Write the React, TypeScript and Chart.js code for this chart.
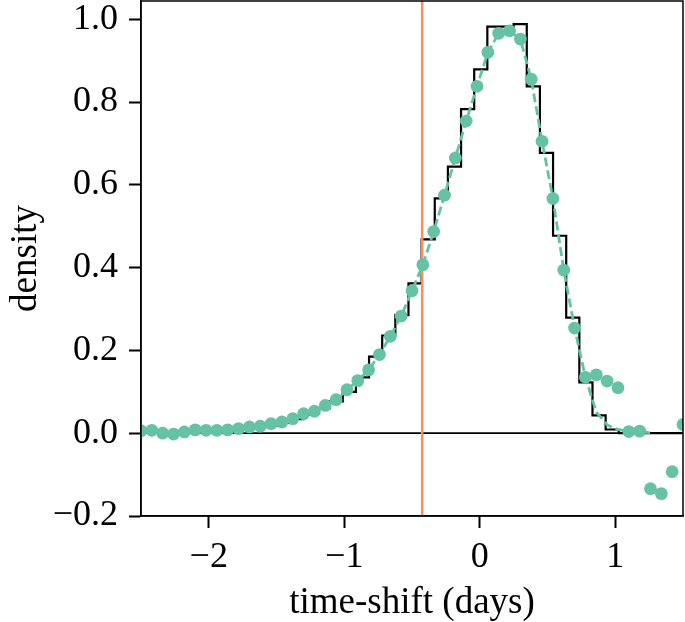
import React, { useEffect, useRef } from "react";
import { Chart, registerables } from "chart.js";

Chart.register(...registerables);

const FONT = "'Liberation Serif', 'Times New Roman', serif";
const GREEN = "#66c2a5";
const ORANGE = "#fc8d62";

const X_MIN = -2.5;
const X_MAX = 1.5;
const Y_MIN = -0.2;
const Y_MAX = 1.044;
const X_TICKS = [-2, -1, 0, 1];
const Y_TICKS = [-0.2, 0, 0.2, 0.4, 0.6, 0.8, 1.0];
const TRUE_SHIFT = -0.425;

const DOT_X = [
  -2.5, -2.42, -2.34, -2.26, -2.18, -2.1, -2.02, -1.94, -1.86, -1.78,
  -1.7, -1.62, -1.54, -1.46, -1.38, -1.3, -1.22, -1.14, -1.06, -0.98,
  -0.9, -0.82, -0.74, -0.66, -0.58, -0.5, -0.42, -0.34, -0.26, -0.18,
  -0.1, -0.02, 0.06, 0.14, 0.22, 0.3, 0.38, 0.46, 0.54, 0.62,
  0.7, 0.78, 0.86, 0.94, 1.02, 1.1, 1.18, 1.26, 1.34, 1.42, 1.5,
];
const DOT_Y = [
  0.006, 0.007, 0.0, -0.002, 0.003, 0.008, 0.007, 0.007, 0.008, 0.011,
  0.015, 0.017, 0.023, 0.027, 0.035, 0.047, 0.053, 0.067, 0.081, 0.105,
  0.127, 0.153, 0.19, 0.234, 0.283, 0.344, 0.407, 0.487, 0.575, 0.665,
  0.754, 0.838, 0.92, 0.966, 0.972, 0.952, 0.855, 0.705, 0.567, 0.394,
  0.254, 0.135, 0.141, 0.126, 0.11, 0.004, 0.005, -0.134, -0.146, -0.093, 0.021,
];
const CURVE_X = [
  -2.5, -2.42, -2.34, -2.26, -2.18, -2.1, -2.02, -1.94, -1.86, -1.78,
  -1.7, -1.62, -1.54, -1.46, -1.38, -1.3, -1.22, -1.14, -1.06, -0.98,
  -0.9, -0.82, -0.74, -0.66, -0.58, -0.5, -0.42, -0.34, -0.26, -0.18,
  -0.1, -0.02, 0.06, 0.14, 0.22, 0.3, 0.38, 0.46, 0.54, 0.62,
  0.7, 0.78, 0.86, 0.94, 1.02, 1.1, 1.18, 1.27,
];
const CURVE_Y = [
  0.006, 0.007, 0.0, -0.002, 0.003, 0.008, 0.007, 0.007, 0.008, 0.011,
  0.015, 0.017, 0.023, 0.027, 0.035, 0.047, 0.053, 0.067, 0.081, 0.105,
  0.127, 0.153, 0.19, 0.234, 0.283, 0.344, 0.407, 0.487, 0.575, 0.665,
  0.754, 0.838, 0.92, 0.966, 0.972, 0.952, 0.855, 0.705, 0.567, 0.394,
  0.254, 0.135, 0.051, 0.02, 0.009, 0.004, 0.005, 0.0,
];
const HIST_EDGES = [
  -2.563, -2.466, -2.369, -2.272, -2.175, -2.078, -1.981, -1.884, -1.787, -1.69,
  -1.593, -1.496, -1.399, -1.302, -1.205, -1.108, -1.011, -0.914, -0.817, -0.72,
  -0.623, -0.526, -0.429, -0.332, -0.235, -0.138, -0.041, 0.056, 0.153, 0.25,
  0.347, 0.444, 0.541, 0.638, 0.735, 0.832, 0.929, 1.026, 1.123, 1.22,
  1.317, 1.414, 1.511,
];
const HIST_VALUES = [
  0.004, 0.003, 0.002, 0.003, 0.005, 0.006, 0.007, 0.008, 0.01, 0.014,
  0.018, 0.025, 0.034, 0.045, 0.06, 0.077, 0.1, 0.135, 0.185, 0.236,
  0.285, 0.362, 0.468, 0.567, 0.644, 0.783, 0.879, 0.982, 0.982, 0.988,
  0.838, 0.677, 0.477, 0.279, 0.123, 0.043, 0.009, 0.0, 0.0, 0.0,
  0.0, 0.0, 0.0,
];

const fmt = (v: number, d: number) => {
  const s = Math.abs(v).toFixed(d);
  return v < -1e-9 ? "\u2212" + s : s;
};

const framePlugin = {
  id: "frame",
  afterDraw(chart: any) {
    const { ctx, chartArea } = chart;
    ctx.save();
    ctx.strokeStyle = "#000";
    ctx.lineWidth = 1.5;
    ctx.strokeRect(chartArea.left, chartArea.top, chartArea.right - chartArea.left, chartArea.bottom - chartArea.top);
    ctx.restore();
  },
};

export default function App() {
  const ref = useRef<HTMLCanvasElement>(null);
  useEffect(() => {
    const tickFont = { family: FONT, size: 36 };
    const titleFont = { family: FONT, size: 37, lineHeight: 1.0 };
    const chart = new Chart(ref.current!, {
      type: "line",
      data: {
        datasets: [
          {
            label: "dots",
            data: DOT_X.map((x, i) => ({ x, y: DOT_Y[i] })),
            showLine: false,
            pointRadius: 6.4,
            pointBackgroundColor: GREEN,
            pointBorderWidth: 0,
            borderColor: GREEN,
            backgroundColor: GREEN,
          },
          {
            label: "curve",
            data: CURVE_X.map((x, i) => ({ x, y: CURVE_Y[i] })),
            borderColor: GREEN,
            borderWidth: 2.8,
            borderDash: [9, 4],
            pointRadius: 0,
            fill: false,
          },
          {
            label: "shift",
            data: [
              { x: TRUE_SHIFT, y: Y_MIN },
              { x: TRUE_SHIFT, y: Y_MAX },
            ],
            borderColor: ORANGE,
            borderWidth: 2.5,
            pointRadius: 0,
          },
          {
            label: "hist",
            data: HIST_EDGES.map((x, i) => ({ x, y: HIST_VALUES[i] })),
            borderColor: "#000",
            borderWidth: 2.2,
            stepped: "before",
            pointRadius: 0,
            fill: false,
          },
          {
            label: "zero",
            data: [
              { x: X_MIN, y: 0 },
              { x: X_MAX, y: 0 },
            ],
            borderColor: "#000",
            borderWidth: 1.8,
            pointRadius: 0,
          },
        ],
      },
      options: {
        responsive: false,
        animation: false,
        layout: { autoPadding: false, padding: { top: 1, right: 2, left: 0, bottom: 0 } },
        plugins: { legend: { display: false }, tooltip: { enabled: false } },
        scales: {
          x: {
            type: "linear",
            min: X_MIN,
            max: X_MAX,
            afterBuildTicks: (s: any) => {
              s.ticks = X_TICKS.map((v) => ({ value: v }));
            },
            afterFit: (s: any) => {
              s.height = 106;
              s.paddingLeft = 0;
              s.paddingRight = 0;
            },
            grid: {
              display: true,
              drawOnChartArea: false,
              drawTicks: true,
              tickLength: 12,
              tickWidth: 2,
              tickColor: "#000",
            },
            border: { display: true, color: "#000", width: 1.5 },
            ticks: {
              font: tickFont,
              color: "#000",
              padding: 8,
              maxRotation: 0,
              autoSkip: false,
              callback: (v: any) => fmt(Number(v), 0),
            },
            title: {
              display: true,
              text: "time-shift (days)",
              font: titleFont,
              color: "#000",
              padding: { top: 0, bottom: 0 },
            },
          },
          y: {
            type: "linear",
            min: Y_MIN,
            max: Y_MAX,
            afterBuildTicks: (s: any) => {
              s.ticks = Y_TICKS.map((v) => ({ value: v }));
            },
            afterFit: (s: any) => {
              s.width = 141;
              s.paddingTop = 0;
              s.paddingBottom = 0;
            },
            grid: {
              display: true,
              drawOnChartArea: false,
              drawTicks: true,
              tickLength: 12,
              tickWidth: 2,
              tickColor: "#000",
            },
            border: { display: true, color: "#000", width: 1.5 },
            ticks: {
              font: tickFont,
              color: "#000",
              padding: 11,
              autoSkip: false,
              callback: (v: any) => fmt(Number(v), 1),
            },
            title: {
              display: true,
              text: "density",
              font: { family: FONT, size: 37 },
              color: "#000",
              padding: { top: 4, bottom: 0 },
            },
          },
        },
      },
      plugins: [framePlugin],
    } as any);
    return () => chart.destroy();
  }, []);
  return (
    <canvas
      ref={ref}
      width={685}
      height={622}
      style={{ position: "fixed", left: 0, top: 0, display: "block" }}
    />
  );
}
